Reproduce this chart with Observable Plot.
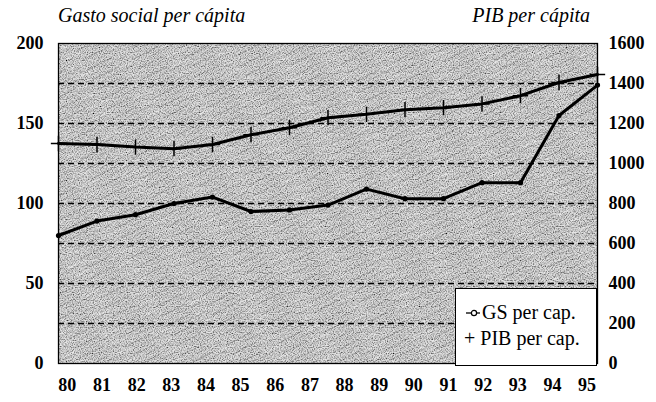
<!DOCTYPE html>
<html><head><meta charset="utf-8">
<script src="https://cdn.jsdelivr.net/npm/d3@7"></script>
<script src="https://cdn.jsdelivr.net/npm/@observablehq/plot@0.6"></script>
<style>
body{margin:0;background:#fff;}
#wrap{position:relative;width:656px;height:402px;font-family:"Liberation Serif","Times New Roman",serif;color:#000;}
.title{position:absolute;top:3px;font-style:italic;font-size:20px;line-height:24px;white-space:nowrap;}
#legend{position:absolute;left:455px;top:288px;width:142px;height:78px;background:#fff;border:1.5px solid #000;font-size:20px;line-height:26px;box-sizing:border-box;padding:10px 0 0 8px;}
#legend div{white-space:nowrap;}
</style></head><body>
<div id="wrap">
  <div class="title" style="left:58px">Gasto social per cápita</div>
  <div class="title" style="right:66px">PIB per cápita</div>
</div>
<script>
// ---- data ----
const yearLabels = ["80","81","82","83","84","85","86","87","88","89","90","91","92","93","94","95"];
const gsValues  = [80, 89, 93, 100, 104, 95, 96, 99, 109, 103, 103, 113, 113, 155, 174];
const pibValues = [1100, 1095, 1082, 1074, 1095, 1144, 1179, 1229, 1246, 1269, 1279, 1298, 1339, 1405, 1445];
const gridValues = [25, 50, 75, 100, 125, 150, 175];
const leftTicks = [0, 50, 100, 150, 200];
const rightTicks = [0, 200, 400, 600, 800, 1000, 1200, 1400, 1600];
const pibRatio = 8;           // right axis = left axis * 8
const labelStart = 0.23, labelStep = 0.9; // label placement along the category axis

const rows = gsValues.map((v, i) => ({i, gs: v, pib: pibValues[i]}));
const labelPos = yearLabels.map((_, k) => labelStart + k * labelStep);

const chart = Plot.plot({
  width: 656, height: 402,
  marginLeft: 58, marginRight: 59, marginTop: 43, marginBottom: 39,
  style: {fontFamily: "'Liberation Serif','Times New Roman',serif", fontSize: "18px", fontWeight: "bold", color: "black", background: "transparent", overflow: "visible"},
  x: {type: "linear", domain: [0, gsValues.length - 1]},
  y: {domain: [0, 200]},
  marks: [
    Plot.frame({fill: "url(#hatch)", stroke: "none"}),
    Plot.ruleY(gridValues, {stroke: "black", strokeWidth: 1.4, strokeDasharray: "6,4"}),
    Plot.axisY(leftTicks, {anchor: "left", label: null, tickSize: 0, tickPadding: 15}),
    Plot.axisY(rightTicks.map(v => v / pibRatio), {anchor: "right", label: null, tickSize: 0, tickPadding: 11, tickFormat: d => String(Math.round(d * pibRatio))}),
    Plot.axisX(labelPos, {anchor: "bottom", label: null, tickSize: 0, tickPadding: 15, tickFormat: d => yearLabels[Math.round((d - labelStart) / labelStep)]}),
    Plot.lineY(rows, {x: "i", y: "gs", stroke: "black", strokeWidth: 3}),
    Plot.dot(rows, {x: "i", y: "gs", r: 2.6, fill: "black"}),
    Plot.lineY(rows, {x: "i", y: d => d.pib / pibRatio, stroke: "black", strokeWidth: 3}),
    Plot.dot(rows, {x: "i", y: d => d.pib / pibRatio, symbol: "plus", r: 5, stroke: "black", strokeWidth: 1.5}),
    Plot.frame({stroke: "black", strokeWidth: 1.3})
  ]
});

const svg = d3.select(chart.tagName.toLowerCase() === "svg" ? chart : chart.querySelector("svg"));
const defs = svg.insert("defs", ":first-child");
const pat = defs.append("pattern").attr("id", "hatch").attr("patternUnits", "userSpaceOnUse")
  .attr("width", 46).attr("height", 11).attr("patternTransform", "rotate(-27)");
pat.append("rect").attr("width", 46).attr("height", 11).attr("fill", "#dedede");
pat.append("path").attr("d", "M0 2.5 H28").attr("stroke", "#9a9a9a").attr("stroke-width", 1.1).attr("stroke-dasharray", "2 1.5");
pat.append("path").attr("d", "M15 7.5 H41").attr("stroke", "#b0b0b0").attr("stroke-width", 1).attr("stroke-dasharray", "1.5 1.5");
pat.append("path").attr("d", "M31 5 H46 M0 5 H4").attr("stroke", "#f5f5f5").attr("stroke-width", 1);
const flt = defs.append("filter").attr("id", "grain").attr("x", 0).attr("y", 0).attr("width", "100%").attr("height", "100%");
flt.append("feTurbulence").attr("type", "fractalNoise").attr("baseFrequency", "0.85").attr("numOctaves", 1).attr("seed", 7).attr("result", "n");
flt.append("feColorMatrix").attr("in", "n").attr("type", "matrix")
  .attr("values", "2.2 0 0 0 -0.35  2.2 0 0 0 -0.35  2.2 0 0 0 -0.35  0 0 0 0 1").attr("result", "g");
flt.append("feBlend").attr("in", "SourceGraphic").attr("in2", "g").attr("mode", "multiply").attr("result", "b");
flt.append("feComposite").attr("in", "b").attr("in2", "SourceGraphic").attr("operator", "in");
const frames = chart.querySelectorAll('[aria-label="frame"]');
if (frames.length) {
  const f = frames[0];
  (f.tagName === "rect" ? [f] : f.querySelectorAll("rect")).forEach(r => { r.setAttribute("fill", "url(#hatch)"); r.setAttribute("filter", "url(#grain)"); });
}
chart.style.position = "absolute"; chart.style.left = "0"; chart.style.top = "0";
const wrap = document.getElementById("wrap");
wrap.insertBefore(chart, wrap.firstChild);

// legend
const lg = document.createElement("div");
lg.id = "legend";
lg.innerHTML = '<div><svg width="18" height="12" style="vertical-align:0px"><line x1="2" x2="16" y1="6" y2="6" stroke="black" stroke-width="1.3"/><circle cx="10" cy="6" r="2.6" fill="white" stroke="black" stroke-width="1.2"/></svg>GS per cap.</div>' +
  '<div>+ PIB per cap.</div>';
wrap.appendChild(lg);
</script>
</body></html>
